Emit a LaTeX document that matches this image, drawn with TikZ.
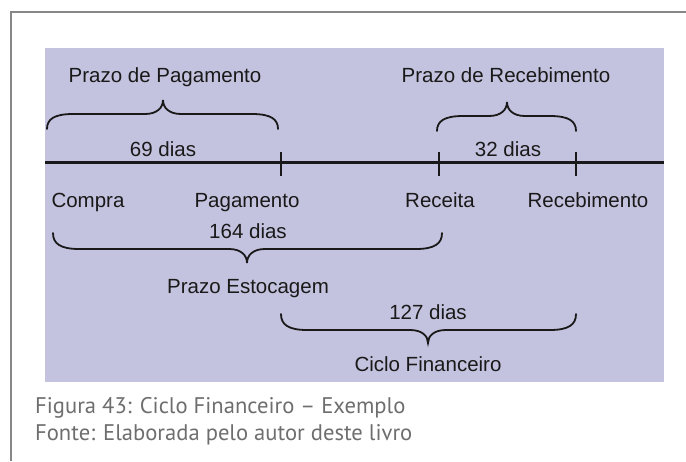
\documentclass[tikz,border=0pt]{standalone}
\usepackage{fontspec}
\setmainfont{Liberation Sans}
\newfontfamily\capfont{PT Sans}
\definecolor{boxfill}{RGB}{196,195,223}
\definecolor{framegray}{RGB}{135,135,135}
\definecolor{captext}{RGB}{110,110,110}
\definecolor{ink}{RGB}{25,25,25}
\newcommand\cbrace[6]{% x1,x2,xm,yEnd,yFlat,yTip
  \draw[bracestyle] (#1,#4) .. controls (#1,{#5+0.35*(#4-#5)}) and ({#1+7},#5) .. ({#1+26},#5)
    -- ({#3-18},#5) .. controls ({#3-6},#5) and (#3,{#5+0.45*(#6-#5)}) .. (#3,#6)
    .. controls (#3,{#5+0.45*(#6-#5)}) and ({#3+6},#5) .. ({#3+18},#5)
    -- ({#2-26},#5) .. controls ({#2-7},#5) and (#2,{#5+0.35*(#4-#5)}) .. (#2,#4);}
\begin{document}
\begin{tikzpicture}[x=1pt,y=-1pt,
  lbl/.style={anchor=base,inner sep=0pt,text=ink,font=\fontsize{20.5}{24}\selectfont},
  captionstyle/.style={anchor=base west,inner sep=0pt,text=captext,font=\capfont\fontsize{22.6}{27}\selectfont},
  bracestyle/.style={line width=1.8pt,draw=ink,line cap=round},
  tickstyle/.style={line width=2pt,draw=ink},
  axisstyle/.style={line width=3pt,draw=ink}]
\useasboundingbox (0,0) rectangle (686,461);
\fill[white] (0,0) rectangle (686,461);
\draw[framegray,line width=2.5pt] (686,12) -- (11,12) -- (11,461);
\fill[boxfill] (45,48) rectangle (664,382);
% timeline
\coordinate (L) at (45,162);
\coordinate (R) at (664,162);
\draw[axisstyle] (L) -- (R);
\foreach \x/\n in {281/t1,439/t2,576/t3}{
  \coordinate (\n a) at (\x,152);
  \coordinate (\n b) at (\x,176);
  \draw[tickstyle] (\n a) -- (\n b);
}
% top labels and braces
\node[lbl] (ppag) at (165,82) {Prazo de Pagamento};
\node[lbl] (prec) at (506,82) {Prazo de Recebimento};
\cbrace{47}{278}{163}{129}{114}{100}
\cbrace{437}{576}{507}{131}{116}{102}
\node[lbl] (d69) at (163,156) {69 dias};
\node[lbl] (d32) at (508,156) {32 dias};
% event labels
\node[lbl] (compra) at (88,207.5) {Compra};
\node[lbl] (pagam) at (247,207.5) {Pagamento};
\node[lbl] (receita) at (440,207.5) {Receita};
\node[lbl] (receb) at (588,207.5) {Recebimento};
% lower braces
\node[lbl] (d164) at (248,238) {164 dias};
\cbrace{53}{442}{247}{233}{249}{263}
\node[lbl] (pest) at (248,293) {Prazo Estocagem};
\node[lbl] (d127) at (428,319) {127 dias};
\cbrace{281}{576}{428}{314}{330}{343}
\node[lbl] (ciclo) at (428,371) {Ciclo Financeiro};
% caption
\node[captionstyle] (cap1) at (35,413) {Figura 43: Ciclo Financeiro – Exemplo};
\node[captionstyle] (cap2) at (35,440) {Fonte: Elaborada pelo autor deste livro};
\end{tikzpicture}
\end{document}
